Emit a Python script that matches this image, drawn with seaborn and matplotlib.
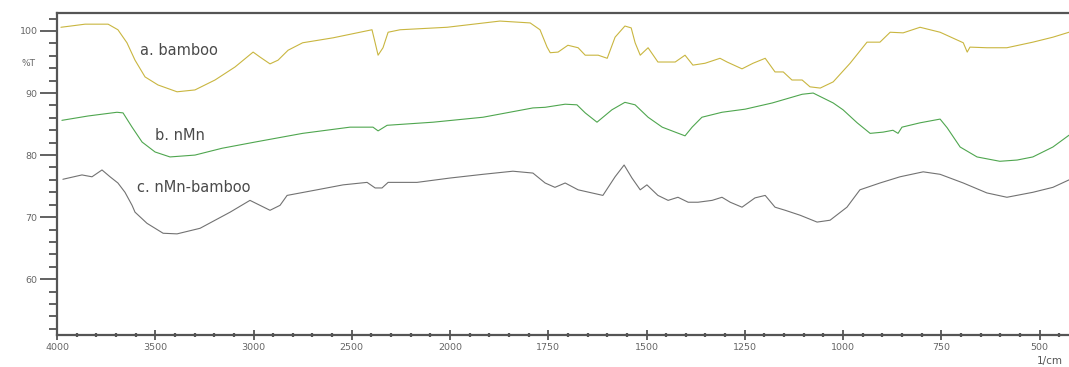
import matplotlib.pyplot as plt
import matplotlib.ticker as mticker
import numpy as np
import pandas as pd
import seaborn as sns

# FTIR spektrumok (hullamszam 1/cm, transzmittancia %T)
bamboo_wn = [3980, 3930, 3857, 3740, 3690, 3644, 3603, 3552, 3486, 3389, 3298, 3196, 3094, 3002,
             2967, 2916, 2875, 2824, 2750, 2595, 2458, 2397, 2381, 2366, 2341, 2315, 2254, 2015,
             1873, 1796, 1771, 1753, 1745, 1725, 1700, 1674, 1656, 1623, 1600, 1580, 1555, 1539,
             1529, 1516, 1496, 1471, 1427, 1402, 1382, 1351, 1313, 1295, 1257, 1229, 1198, 1173,
             1152, 1130, 1104, 1084, 1058, 1025, 982, 939, 906, 880, 847, 804, 753, 694, 684, 677,
             634, 583, 517, 466, 425]
bamboo_t = [100.6, 100.8, 101.1, 101.1, 100.2, 98.1, 95.3, 92.6, 91.3, 90.2, 90.5, 92.1, 94.2, 96.6,
            95.8, 94.7, 95.3, 96.9, 98.1, 98.9, 99.8, 100.2, 98.1, 96.1, 97.3, 99.8, 100.2, 100.6,
            101.6, 101.3, 100.2, 97.4, 96.5, 96.6, 97.7, 97.3, 96.1, 96.1, 95.6, 99.0, 100.8, 100.5,
            98.1, 96.1, 97.3, 95.0, 95.0, 96.1, 94.5, 94.8, 95.6, 95.0, 93.9, 94.8, 95.6, 93.4,
            93.4, 92.1, 92.1, 91.0, 90.8, 91.8, 94.8, 98.2, 98.2, 99.8, 99.7, 100.6, 99.8, 98.1, 96.6, 97.4,
            97.3, 97.3, 98.2, 99.0, 99.8]

nmn_wn = [3975, 3842, 3695, 3664, 3618, 3567, 3501, 3425, 3298, 3160, 2992, 2750, 2509, 2392,
          2366, 2320, 2086, 1916, 1789, 1758, 1707, 1677, 1656, 1626, 1588, 1555, 1529, 1496,
          1460, 1427, 1402, 1384, 1359, 1308, 1249, 1180, 1104, 1076, 1025, 1000, 964, 931,
          898, 873, 860, 850, 804, 753, 735, 702, 659, 601, 557, 517, 466, 425]
nmn_t = [85.6, 86.3, 86.9, 86.8, 84.5, 82.1, 80.5, 79.7, 80.0, 81.1, 82.1, 83.5, 84.5, 84.5,
         83.9, 84.8, 85.3, 86.1, 87.6, 87.7, 88.2, 88.1, 86.8, 85.3, 87.3, 88.5, 88.1, 86.1,
         84.5, 83.7, 83.1, 84.5, 86.1, 86.9, 87.4, 88.4, 89.8, 90.0, 88.4, 87.3, 85.2, 83.5,
         83.7, 84.0, 83.5, 84.5, 85.2, 85.8, 84.4, 81.3, 79.7, 79.0, 79.2, 79.7, 81.3, 83.2]

mix_wn = [3970, 3873, 3822, 3771, 3730, 3690, 3654, 3618, 3603, 3542, 3460, 3389, 3272, 3119,
          3018, 2967, 2916, 2865, 2829, 2677, 2544, 2422, 2381, 2346, 2315, 2168, 2000, 1916,
          1840, 1789, 1758, 1733, 1707, 1674, 1639, 1611, 1580, 1557, 1537, 1516, 1499, 1471,
          1445, 1420, 1394, 1369, 1333, 1308, 1287, 1257, 1224, 1198, 1173, 1147, 1109, 1066,
          1033, 990, 957, 906, 855, 796, 753, 694, 634, 583, 517, 466, 425]
mix_t = [76.1, 76.8, 76.5, 77.6, 76.5, 75.5, 74.0, 71.9, 70.8, 69.0, 67.4, 67.3, 68.2, 70.8,
         72.7, 71.9, 71.1, 71.9, 73.5, 74.4, 75.2, 75.6, 74.7, 74.7, 75.6, 75.6, 76.3, 76.9,
         77.4, 77.1, 75.5, 74.8, 75.5, 74.4, 73.9, 73.5, 76.5, 78.4, 76.3, 74.4, 75.2, 73.5,
         72.7, 73.2, 72.4, 72.4, 72.7, 73.2, 72.4, 71.6, 73.1, 73.5, 71.6, 71.1, 70.3, 69.2,
         69.5, 71.6, 74.4, 75.5, 76.5, 77.3, 76.9, 75.5, 73.9, 73.2, 74.0, 74.8, 76.0]

samples = ['a. bamboo', 'b. nMn', 'c. nMn-bamboo']
colors = ['#c9b640', '#4fa64f', '#727272']

df = pd.concat([
    pd.DataFrame({'wn': bamboo_wn, 'T': bamboo_t, 'minta': samples[0]}),
    pd.DataFrame({'wn': nmn_wn, 'T': nmn_t, 'minta': samples[1]}),
    pd.DataFrame({'wn': mix_wn, 'T': mix_t, 'minta': samples[2]}),
])

sns.set_style("white")
plt.rcParams['font.family'] = ['DejaVu Sans']

fig = plt.figure(figsize=(10.69, 3.67), dpi=100)
ax = fig.add_axes([57 / 1069, 1 - 335 / 367, 1 - 57 / 1069, (335 - 13) / 367])

sns.lineplot(data=df, x='wn', y='T', hue='minta', palette=colors, sort=False,
             estimator=None, linewidth=0.8, legend=False, ax=ax)


# 2000 alatt dupla lepték (mint a muszer kimenete)
def fwd(x):
    x = np.asarray(x, dtype=float)
    return np.where(x >= 2000, x, 2 * x - 2000)


def inv(u):
    u = np.asarray(u, dtype=float)
    return np.where(u >= 2000, u, (u + 2000) / 2)


ax.set_xscale('function', functions=(fwd, inv))
ax.set_xlim(4000, 425)
ax.set_ylim(51, 102.9)

major_x = [4000, 3500, 3000, 2500, 2000, 1750, 1500, 1250, 1000, 750, 500]
minor_x = [w for w in range(4000, 2000, -100) if w not in major_x] + \
          [w for w in range(2000, 400, -50) if w not in major_x]
ax.xaxis.set_major_locator(mticker.FixedLocator(major_x))
ax.xaxis.set_minor_locator(mticker.FixedLocator(minor_x))
ax.xaxis.set_major_formatter(mticker.FixedFormatter([str(w) for w in major_x]))
ax.yaxis.set_minor_locator(mticker.MultipleLocator(2))
ax.set_yticks([60, 70, 80, 90, 100])

for side in ['left', 'bottom', 'top']:
    ax.spines[side].set_color('#555555')
    ax.spines[side].set_linewidth(1.6)
ax.spines['right'].set_visible(False)

ax.tick_params(axis='x', which='major', direction='inout', length=7, width=1.3, bottom=True,
               top=False, colors='#555555', labelsize=6.8, labelcolor='#666666', pad=2)
ax.tick_params(axis='x', which='minor', direction='inout', length=3.5, width=1.6, bottom=True,
               top=False, colors='#555555')
ax.tick_params(axis='y', which='major', direction='out', length=12, width=1.3, left=True,
               colors='#555555', labelsize=6.8, labelcolor='#666666', pad=2)
ax.tick_params(axis='y', which='minor', direction='out', length=6, width=1.3, left=True,
               colors='#555555')

ax.set_xlabel('')
ax.set_ylabel('')

fig.text(28 / 1069, 1 - 63 / 367, '%T', fontsize=6.5, color='#666666', ha='center', va='center')
fig.text(1050 / 1069, 1 - 361 / 367, '1/cm', fontsize=7.5, color='#555555', ha='center', va='center')

label_pos = [(3578, 96.9), (3501, 83.2), (3593, 74.8)]
for name, (xw, yt) in zip(samples, label_pos):
    ax.text(xw, yt, name, fontsize=10.5, color='#4a4a4a', ha='left', va='center')

plt.savefig("out.png", dpi=100)
